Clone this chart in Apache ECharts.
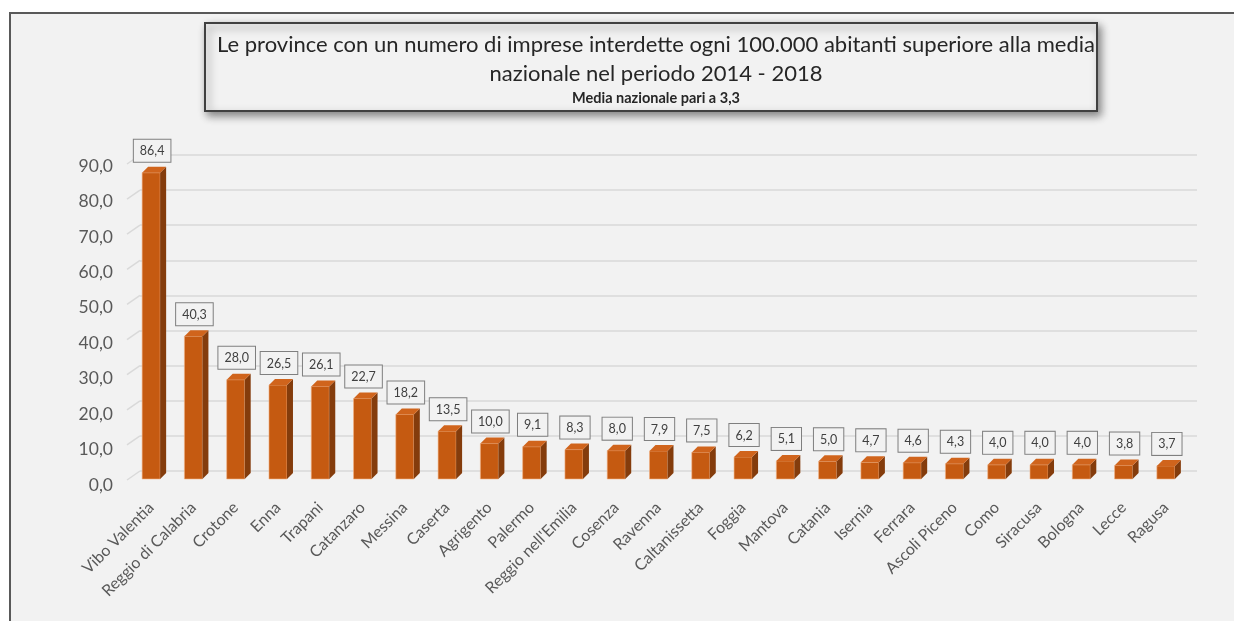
<!DOCTYPE html>
<html>
<head>
<meta charset="utf-8">
<script src="https://cdn.jsdelivr.net/npm/echarts@6/dist/echarts.min.js"></script>
<style>
html,body{margin:0;padding:0;background:#ffffff;}
#chart{width:1234px;height:621px;}
</style>
</head>
<body>
<div id="chart"></div>
<script>
const categories = ["Vibo Valentia","Reggio di Calabria","Crotone","Enna","Trapani","Catanzaro","Messina","Caserta","Agrigento","Palermo","Reggio nell'Emilia","Cosenza","Ravenna","Caltanissetta","Foggia","Mantova","Catania","Isernia","Ferrara","Ascoli Piceno","Como","Siracusa","Bologna","Lecce","Ragusa"];
const values = [86.4,40.3,28.0,26.5,26.1,22.7,18.2,13.5,10.0,9.1,8.3,8.0,7.9,7.5,6.2,5.1,5.0,4.7,4.6,4.3,4.0,4.0,4.0,3.8,3.7];
const yTicks = [0,10,20,30,40,50,60,70,80,90];
const titleText = "Le province con un numero di imprese interdette ogni 100.000 abitanti superiore alla media\nnazionale nel periodo 2014 - 2018";
const subText = "Media nazionale pari a 3,3";

const fmt = v => v.toFixed(1).replace('.', ',');
const FONT = 'Lato, "Open Sans", sans-serif';

const chart = echarts.init(document.getElementById('chart'), null, {renderer:'canvas'});

const DX = 6, DY = -6, HALF = 9;

function renderBar(params, api) {
  const v = api.value(1);
  const top = api.coord([api.value(0), v]);
  const base = api.coord([api.value(0), 0]);
  const cx = top[0];
  const xl = cx - HALF, xr = cx + HALF;
  const yt = top[1], yb = base[1];
  return {
    type: 'group',
    children: [
      {type:'rect', shape:{x:xl, y:yt, width:xr-xl, height:yb-yt}, style:{fill:'#c55a11', stroke:'#f4b183', lineWidth:0.6}},
      {type:'polygon', shape:{points:[[xr,yb],[xr+DX,yb+DY],[xr+DX,yt+DY],[xr,yt]]}, style:{fill:'#843c0c'}},
      {type:'polygon', shape:{points:[[xl,yt],[xr,yt],[xr+DX,yt+DY],[xl+DX,yt+DY]]}, style:{fill:'#d0641c'}},
      {type:'text', x:cx+1, y:yt+DY-5, style:{
        text: fmt(v), align:'center', verticalAlign:'bottom',
        fontFamily: FONT, fontSize: 12.5, fill:'#404040',
        backgroundColor:'#f2f2f2', borderColor:'#7f7f7f', borderWidth:1, padding:[5,6,4,6]
      }}
    ]
  };
}

function renderWall(params, api) {
  const p = api.coord([0, api.value(1)]);
  const x0 = params.coordSys.x;
  return {type:'line', shape:{x1:x0-13, y1:p[1]+9, x2:x0, y2:p[1]}, style:{stroke:'#d9d9d9', lineWidth:1.5}};
}

const option = {
  backgroundColor: '#ffffff',
  animation: false,
  title: {
    text: titleText,
    subtext: subText,
    left: 651, top: 25, textAlign: 'center',
    itemGap: 3,
    textStyle: {fontFamily: FONT, fontSize: 22, fontWeight: 'normal', color: '#262626', lineHeight: 29},
    subtextStyle: {fontFamily: FONT, fontSize: 14.5, fontWeight: 'bold', color: '#262626'}
  },
  graphic: [
    {type:'rect', z:-10, shape:{x:10, y:13, width:1240, height:640}, style:{fill:'#f2f2f2', stroke:'#595959', lineWidth:2}},
    {type:'rect', z:-5, shape:{x:205, y:23, width:892, height:88}, style:{fill:'#f2f2f2', stroke:'#404040', lineWidth:2, shadowBlur:8, shadowOffsetX:3, shadowOffsetY:4, shadowColor:'rgba(0,0,0,0.45)'}}
  ],
  grid: [
    {left:130, right:47, top:160, bottom:142},
    {left:140, right:37, top:155, bottom:150}
  ],
  xAxis: [
    {gridIndex:0, type:'category', data:categories,
      axisLine:{show:false}, axisTick:{show:false},
      axisLabel:{rotate:45, interval:0, margin:26, fontFamily:FONT, fontSize:16, color:'#595959'}},
    {gridIndex:1, type:'category', data:categories, show:false}
  ],
  yAxis: [
    {gridIndex:0, type:'value', min:0, max:90, interval:10,
      axisLine:{show:false}, axisTick:{show:false}, splitLine:{show:false},
      axisLabel:{margin:17, formatter: v => '{a|' + fmt(v) + '}',
        rich:{a:{fontFamily:FONT, fontSize:17.5, color:'#595959', padding:[12,0,0,0]}}}},
    {gridIndex:1, type:'value', min:0, max:90, interval:10,
      axisLine:{show:false}, axisTick:{show:false}, axisLabel:{show:false},
      splitLine:{show:true, lineStyle:{color:'#d9d9d9', width:1.5}}}
  ],
  series: [
    {type:'custom', xAxisIndex:1, yAxisIndex:1, renderItem: renderWall, data: yTicks.map(t => [0, t]), silent:true, z:1},
    {type:'custom', xAxisIndex:0, yAxisIndex:0, renderItem: renderBar, data: values.map((v,i) => [i, v]), z:5}
  ]
};
chart.setOption(option);
</script>
</body>
</html>
